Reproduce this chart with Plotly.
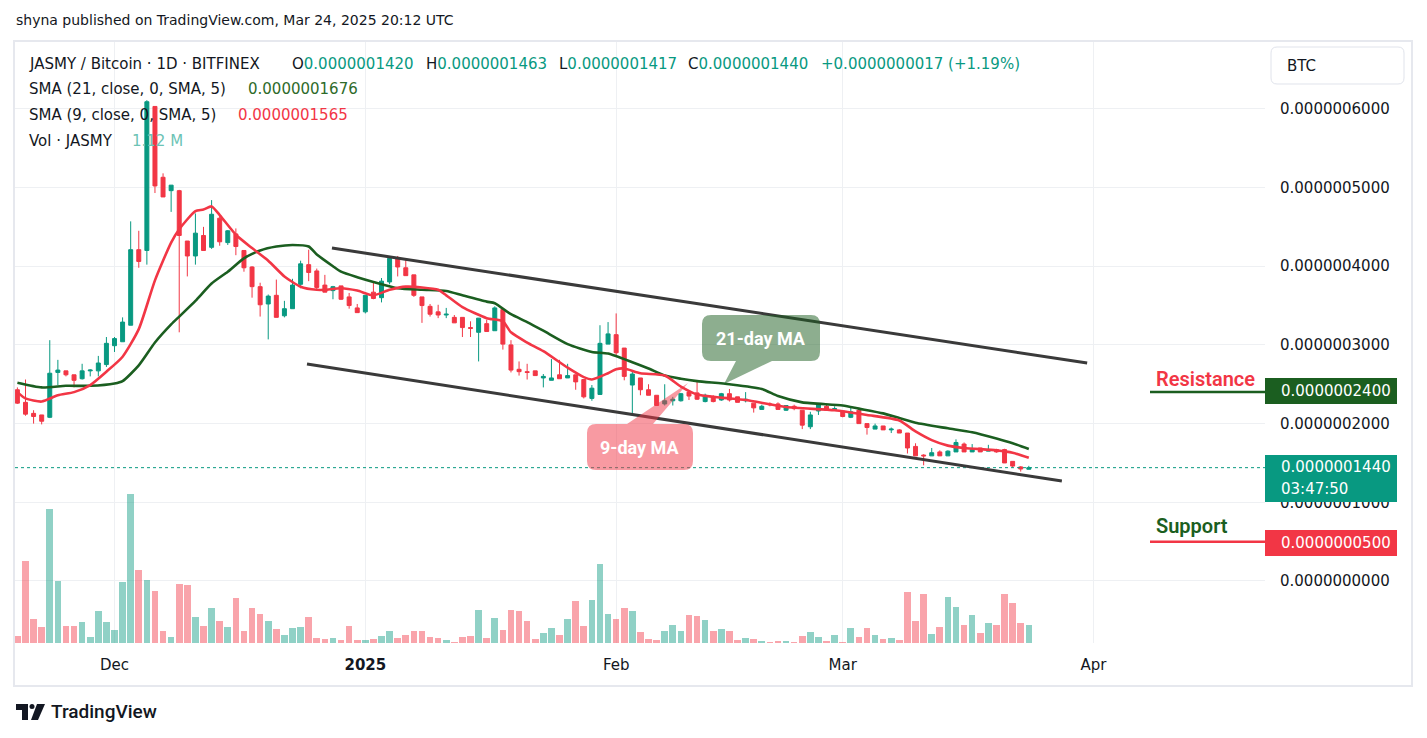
import plotly.graph_objects as go
import pandas as pd

# ---------------- data (prices in units of 1e-7 BTC) ----------------
dates = pd.date_range("2024-11-19", periods=126, freq="D")

open_ = [2.43, 2.27, 2.13, 2.11, 2.08, 2.65, 2.67, 2.62, 2.57, 2.67,
         2.67, 2.75, 2.99, 3.04, 3.25, 4.21, 4.20, 6.03, 5.13, 4.96,
         4.96, 4.32, 4.13, 4.39, 4.24, 4.61, 4.30, 4.41, 4.20, 3.99,
         3.74, 3.52, 3.63, 3.37, 3.46, 3.77, 4.02, 3.94, 3.76, 3.69,
         3.75, 3.61, 3.47, 3.42, 3.67, 3.60, 3.80, 4.10, 3.98, 3.89,
         3.61, 3.49, 3.42, 3.38, 3.35, 3.35, 3.22, 3.16, 3.27, 3.18,
         3.45, 3.00, 2.69, 2.66, 2.67, 2.58, 2.55, 2.62, 2.58, 2.62,
         2.56, 2.32, 2.37, 3.01, 3.13, 2.96, 2.49, 2.58, 2.43, 2.36,
         2.25, 2.29, 2.29, 2.40, 2.39, 2.28, 2.34, 2.30, 2.38, 2.34,
         2.29, 2.26, 2.18, 2.25, 2.25, 2.17, 2.22, 2.17, 1.96, 2.16,
         2.22, 2.18, 2.16, 2.08, 2.17, 2.00, 1.93, 1.97, 1.92, 1.92,
         1.88, 1.71, 1.60, 1.59, 1.64, 1.59, 1.64, 1.74, 1.64, 1.69,
         1.65, 1.67, 1.67, 1.52, 1.45, 1.420]
high = [2.46, 2.56, 2.17, 2.11, 3.06, 2.81, 2.67, 2.62, 2.76, 2.69,
        2.86, 3.10, 3.10, 3.35, 4.57, 4.45, 6.11, 6.03, 5.18, 5.03,
        4.97, 4.32, 4.67, 4.50, 4.84, 4.65, 4.46, 4.48, 4.20, 4.00,
        3.79, 3.64, 3.83, 3.56, 3.84, 4.07, 4.21, 3.97, 3.89, 3.75,
        3.75, 3.66, 3.52, 3.63, 3.80, 3.85, 4.13, 4.13, 4.08, 3.89,
        3.61, 3.52, 3.51, 3.47, 3.38, 3.35, 3.30, 3.34, 3.32, 3.49,
        3.47, 3.06, 2.79, 2.76, 2.67, 2.63, 2.82, 2.81, 2.76, 2.62,
        2.56, 2.49, 3.25, 3.29, 3.40, 2.96, 2.66, 2.58, 2.50, 2.36,
        2.50, 2.34, 2.39, 2.41, 2.53, 2.38, 2.36, 2.39, 2.44, 2.34,
        2.40, 2.26, 2.24, 2.27, 2.27, 2.23, 2.24, 2.17, 2.15, 2.26,
        2.24, 2.22, 2.16, 2.21, 2.19, 2.00, 2.00, 1.97, 1.95, 1.93,
        1.88, 1.75, 1.61, 1.69, 1.66, 1.66, 1.80, 1.76, 1.74, 1.69,
        1.73, 1.68, 1.68, 1.52, 1.46, 1.463]
low = [2.25, 2.10, 2.00, 1.99, 2.07, 2.49, 2.60, 2.46, 2.56, 2.60,
       2.60, 2.72, 2.91, 3.04, 3.25, 3.98, 4.02, 4.93, 4.88, 4.69,
       3.16, 3.87, 4.02, 4.20, 4.22, 4.26, 4.27, 4.14, 3.93, 3.60,
       3.36, 3.07, 3.35, 3.35, 3.46, 3.72, 3.81, 3.71, 3.67, 3.58,
       3.57, 3.46, 3.41, 3.40, 3.58, 3.54, 3.77, 3.87, 3.88, 3.61,
       3.28, 3.36, 3.34, 3.34, 3.28, 3.10, 3.10, 2.79, 3.17, 3.18,
       2.94, 2.65, 2.61, 2.56, 2.61, 2.46, 2.55, 2.57, 2.58, 2.43,
       2.32, 2.29, 2.37, 3.01, 2.87, 2.55, 2.11, 2.36, 2.36, 2.23,
       2.23, 2.23, 2.28, 2.30, 2.30, 2.27, 2.27, 2.29, 2.28, 2.27,
       2.27, 2.14, 2.18, 2.22, 2.18, 2.16, 2.17, 1.93, 1.93, 2.11,
       2.16, 2.16, 2.08, 2.07, 2.00, 1.86, 1.93, 1.92, 1.88, 1.88,
       1.62, 1.59, 1.47, 1.59, 1.59, 1.59, 1.64, 1.64, 1.64, 1.64,
       1.65, 1.63, 1.50, 1.44, 1.39, 1.417]
close = [2.26, 2.12, 2.09, 2.03, 2.64, 2.68, 2.62, 2.55, 2.67, 2.68,
         2.77, 3.02, 3.08, 3.29, 4.21, 4.06, 6.09, 5.02, 4.88, 5.03,
         4.39, 4.13, 4.42, 4.20, 4.66, 4.31, 4.45, 4.25, 3.98, 3.74,
         3.51, 3.62, 3.35, 3.46, 3.76, 4.03, 3.92, 3.73, 3.67, 3.74,
         3.58, 3.50, 3.41, 3.63, 3.59, 3.81, 4.10, 3.99, 3.88, 3.63,
         3.50, 3.39, 3.38, 3.39, 3.28, 3.22, 3.21, 3.34, 3.17, 3.47,
         3.01, 2.68, 2.66, 2.65, 2.61, 2.60, 2.58, 2.57, 2.61, 2.53,
         2.34, 2.45, 3.02, 3.14, 2.90, 2.60, 2.63, 2.43, 2.36, 2.23,
         2.29, 2.31, 2.38, 2.35, 2.31, 2.36, 2.28, 2.38, 2.30, 2.27,
         2.31, 2.20, 2.22, 2.24, 2.18, 2.23, 2.19, 1.98, 2.11, 2.24,
         2.17, 2.19, 2.09, 2.15, 2.00, 1.95, 1.97, 1.92, 1.93, 1.88,
         1.69, 1.59, 1.59, 1.63, 1.59, 1.65, 1.76, 1.64, 1.67, 1.64,
         1.67, 1.64, 1.50, 1.46, 1.423, 1.440]
# volume, millions of JASMY
volume = [0.44, 5.10, 1.49, 1.00, 8.34, 3.86, 1.06, 1.06, 1.31, 0.37,
          1.99, 1.31, 0.81, 3.80, 9.27, 4.54, 3.92, 3.24, 0.75, 0.37,
          3.67, 3.61, 1.62, 1.06, 2.18, 1.37, 1.00, 2.80, 0.75, 2.18,
          1.80, 1.37, 0.87, 0.50, 0.93, 1.00, 1.62, 0.31, 0.25, 0.31,
          0.19, 1.06, 0.19, 0.19, 0.25, 0.44, 0.75, 0.31, 0.50, 0.75,
          0.75, 0.37, 0.31, 0.19, 0.06, 0.37, 0.44, 2.05, 0.31, 1.56,
          0.81, 2.05, 1.99, 1.37, 0.25, 0.62, 0.93, 0.50, 1.49, 2.61,
          1.06, 2.68, 4.92, 1.80, 1.49, 2.18, 1.99, 0.68, 0.25, 0.19,
          0.75, 1.12, 0.75, 1.74, 1.68, 1.43, 0.75, 0.87, 0.75, 0.19,
          0.31, 0.25, 0.12, 0.06, 0.12, 0.12, 0.06, 0.44, 0.68, 0.37,
          0.12, 0.50, 0.06, 0.93, 0.37, 0.93, 0.50, 0.25, 0.31, 0.19,
          3.17, 1.37, 3.05, 0.56, 1.00, 2.86, 2.24, 1.12, 1.74, 0.62,
          1.24, 1.12, 3.05, 2.49, 1.24, 1.12]

# moving averages: (bar number, value)
sma21_bar = [1, 4, 7, 10, 13, 14, 16, 18, 20, 21, 23, 25, 27, 29, 31, 33, 35, 37, 38,
             40, 41, 43, 45, 48, 51, 54, 56, 59, 60, 62, 64, 66, 69, 72, 74, 77, 79,
             81, 83, 85, 89, 93, 95, 98, 103, 105, 108, 110, 112, 116, 119, 122, 124, 126]
sma21_val = [2.52, 2.46, 2.48, 2.48, 2.51, 2.54, 2.74, 3.03, 3.26, 3.36, 3.56, 3.78, 3.93,
             4.10, 4.20, 4.25, 4.27, 4.25, 4.15, 4.00, 3.93, 3.86, 3.80, 3.72, 3.70, 3.685,
             3.63, 3.55, 3.53, 3.39, 3.29, 3.18, 3.01, 2.91, 2.89, 2.78, 2.70, 2.61, 2.57,
             2.54, 2.50, 2.44, 2.35, 2.27, 2.23, 2.19, 2.13, 2.07, 2.01, 1.94, 1.89, 1.81,
             1.75, 1.676]
sma9_bar = [1, 2, 4, 6, 8, 10, 12, 14, 16, 18, 20, 21, 23, 24, 25, 26, 28, 30, 32, 34,
            36, 38, 39, 41, 43, 45, 47, 49, 51, 53, 54, 56, 59, 61, 62, 64, 66, 69, 71,
            72, 74, 75, 76, 78, 81, 83, 85, 88, 91, 96, 102, 106, 110, 112, 114, 116,
            118, 122, 124, 126]
sma9_val = [2.40, 2.32, 2.28, 2.36, 2.40, 2.49, 2.66, 2.85, 3.20, 3.82, 4.30, 4.47, 4.70,
            4.72, 4.76, 4.65, 4.40, 4.23, 4.07, 3.87, 3.74, 3.70, 3.70, 3.72, 3.69, 3.63,
            3.70, 3.74, 3.73, 3.70, 3.63, 3.48, 3.34, 3.30, 3.16, 3.03, 2.92, 2.71, 2.59,
            2.56, 2.64, 2.69, 2.70, 2.64, 2.61, 2.47, 2.37, 2.33, 2.30, 2.21, 2.17, 2.11,
            2.04, 1.90, 1.79, 1.72, 1.69, 1.66, 1.63, 1.565]

# drawn channel lines (date, price in 1e-7)
channel_upper = [("2024-12-27 21:00", 4.23), ("2025-03-31 05:00", 2.77)]
channel_lower = [("2024-12-24 19:00", 2.757), ("2025-03-28 02:00", 1.27)]
resistance_level = 2.40
support_level = 0.50
last_price = 1.440

price_ticks = [0, 1, 2, 3, 4, 5, 6]
month_ticks = ["2024-12-01", "2025-01-01", "2025-02-01", "2025-03-01", "2025-04-01"]
month_labels = ["Dec", "<b>2025</b>", "Feb", "Mar", "Apr"]

# ---------------- styling ----------------
S = 1e-7
UP = "#089981"
DN = "#F23645"
GREEN = "#1B5E20"
TXT = "#131722"
GRID = "#eef0f3"
FONT = "DejaVu Sans"
BOLDF = "Roboto"

W, H = 1427, 738
PL, PR, PT, PB = 15, 1265, 42, 643


def px(x):
    return (x - PL) / (PR - PL)


def py(y):
    return (PB - y) / (PB - PT)


def P(x, y):
    return f"{px(x):.5f},{py(y):.5f}"


sc = lambda v: [a * S for a in v]

vol_colors = ["rgba(8,153,129,0.45)" if c >= o else "rgba(242,54,69,0.45)"
              for o, c in zip(open_, close)]

fig = go.Figure()
fig.add_trace(go.Bar(x=dates, y=volume, yaxis="y2", width=0.82 * 86400000,
                     marker=dict(color=vol_colors, line_width=0),
                     hoverinfo="skip", showlegend=False))
fig.add_trace(go.Candlestick(
    x=dates, open=sc(open_), high=sc(high), low=sc(low), close=sc(close),
    increasing=dict(line=dict(color=UP, width=1), fillcolor=UP),
    decreasing=dict(line=dict(color=DN, width=1), fillcolor=DN),
    whiskerwidth=0, showlegend=False, hoverinfo="skip"))
fig.add_trace(go.Scatter(x=[dates[i - 1] for i in sma21_bar], y=sc(sma21_val),
                         mode="lines", line=dict(color=GREEN, width=2.6, shape="spline", smoothing=0.6),
                         hoverinfo="skip", showlegend=False))
fig.add_trace(go.Scatter(x=[dates[i - 1] for i in sma9_bar], y=sc(sma9_val),
                         mode="lines", line=dict(color="#F23645", width=2.6, shape="spline", smoothing=0.6),
                         hoverinfo="skip", showlegend=False))

shapes = []
# chart frame
shapes.append(dict(type="rect", xref="paper", yref="paper", x0=px(14), x1=px(1412), y0=py(41), y1=py(686),
                   line=dict(color="#e6e8ee", width=2), fillcolor="rgba(0,0,0,0)", layer="below"))
# current price dotted line
shapes.append(dict(type="line", xref="paper", yref="y", x0=0, x1=1, y0=last_price * S, y1=last_price * S,
                   line=dict(color=UP, width=1, dash="dot"), layer="above"))
# channel
for seg in (channel_upper, channel_lower):
    shapes.append(dict(type="line", xref="x", yref="y", x0=seg[0][0], y0=seg[0][1] * S,
                       x1=seg[1][0], y1=seg[1][1] * S, line=dict(color="#3a3a3a", width=3), layer="above"))
# resistance / support
shapes.append(dict(type="line", xref="paper", yref="y", x0=px(1150), x1=1, y0=resistance_level * S,
                   y1=resistance_level * S, line=dict(color=GREEN, width=2.5), layer="above"))
shapes.append(dict(type="line", xref="paper", yref="y", x0=px(1150), x1=1, y0=support_level * S,
                   y1=support_level * S, line=dict(color=DN, width=2.5), layer="above"))


def callout(x0, y0, x1, y1, r, tail, side):
    # rounded rect with a tail; tail = (base_a, base_b, tipx, tipy)
    ba, bb, tx, ty = tail
    d = f"M{P(x0 + r, y0)}"
    if side == "top":
        d += f" L{P(ba, y0)} L{P(tx, ty)} L{P(bb, y0)}"
    d += f" L{P(x1 - r, y0)} Q{P(x1, y0)} {P(x1, y0 + r)} L{P(x1, y1 - r)} Q{P(x1, y1)} {P(x1 - r, y1)}"
    if side == "bottom":
        d += f" L{P(bb, y1)} L{P(tx, ty)} L{P(ba, y1)}"
    d += f" L{P(x0 + r, y1)} Q{P(x0, y1)} {P(x0, y1 - r)} L{P(x0, y0 + r)} Q{P(x0, y0)} {P(x0 + r, y0)} Z"
    return d


shapes.append(dict(type="path", xref="paper", yref="paper",
                   path=callout(702, 315, 820, 361, 9, (736, 772, 724, 384), "bottom"),
                   fillcolor="rgba(27,94,32,0.5)", line=dict(width=0), layer="above"))
shapes.append(dict(type="path", xref="paper", yref="paper",
                   path=callout(587, 424, 693, 470, 9, (627, 653, 688, 383), "top"),
                   fillcolor="rgba(242,54,69,0.5)", line=dict(width=0), layer="above"))

# price scale boxes
shapes.append(dict(type="rect", xref="paper", yref="paper", x0=1, x1=px(1397), y0=py(378), y1=py(404),
                   fillcolor=GREEN, line=dict(width=0), layer="above"))
shapes.append(dict(type="rect", xref="paper", yref="paper", x0=1, x1=px(1397), y0=py(455), y1=py(502),
                   fillcolor=UP, line=dict(width=0), layer="above"))
shapes.append(dict(type="rect", xref="paper", yref="paper", x0=1, x1=px(1397), y0=py(530), y1=py(556),
                   fillcolor=DN, line=dict(width=0), layer="above"))
# BTC button
bx0, by0, bx1, by1, br = 1271, 47, 1404, 84, 6
shapes.append(dict(type="path", xref="paper", yref="paper",
                   path=(f"M{P(bx0 + br, by0)} L{P(bx1 - br, by0)} Q{P(bx1, by0)} {P(bx1, by0 + br)} "
                         f"L{P(bx1, by1 - br)} Q{P(bx1, by1)} {P(bx1 - br, by1)} L{P(bx0 + br, by1)} "
                         f"Q{P(bx0, by1)} {P(bx0, by1 - br)} L{P(bx0, by0 + br)} Q{P(bx0, by0)} {P(bx0 + br, by0)} Z"),
                   fillcolor="white", line=dict(color="#e0e3eb", width=1), layer="above"))
# TradingView logo
shapes.append(dict(type="path", xref="paper", yref="paper",
                   path=f"M{P(16, 704)} L{P(28, 704)} L{P(28, 720)} L{P(22, 720)} L{P(22, 710)} L{P(16, 710)} Z",
                   fillcolor=TXT, line=dict(width=0), layer="above"))
shapes.append(dict(type="circle", xref="paper", yref="paper", x0=px(29.5), x1=px(34.5), y0=py(704), y1=py(709),
                   fillcolor=TXT, line=dict(width=0), layer="above"))
shapes.append(dict(type="path", xref="paper", yref="paper",
                   path=f"M{P(37, 704)} L{P(45, 704)} L{P(38, 720)} L{P(31, 720)} Z",
                   fillcolor=TXT, line=dict(width=0), layer="above"))

ann = []


def text(x, y, s, size=15, color=TXT, xanchor="left", family=FONT, weight="normal"):
    ann.append(dict(xref="paper", yref="paper", x=px(x), y=py(y), text=s, showarrow=False,
                    xanchor=xanchor, yanchor="middle",
                    font=dict(family=family, size=size, color=color, weight=weight)))


def span(s, c):
    return f"<span style='color:{c}'>{s}</span>"


text(14, 20, "shyna published on TradingView.com, Mar 24, 2025 20:12 UTC", 14)
text(27, 64, "JASMY / Bitcoin · 1D · BITFINEX")
text(290, 64, "O" + span("0.0000001420", UP))
text(424, 64, "H" + span("0.0000001463", UP))
text(557, 64, "L" + span("0.0000001417", UP))
text(686, 64, "C" + span("0.0000001440", UP))
text(819, 64, span("+0.0000000017 (+1.19%)", UP))
text(27, 89, "SMA (21, close, 0, SMA, 5)")
text(246, 89, span("0.0000001676", "#2E6B2A"))
text(27, 115, "SMA (9, close, 0, SMA, 5)")
text(236, 115, span("0.0000001565", DN))
text(27, 141, "Vol · JASMY")
text(130, 141, span("1.12 M", "#6cc3b5"))

text(761, 338, "21-day MA", 18, "white", "center", BOLDF, "bold")
text(640, 447, "9-day MA", 18, "white", "center", BOLDF, "bold")
text(1154, 379, "Resistance", 20, DN, family=BOLDF, weight=600)
text(1154, 526, "Support", 20, GREEN, family=BOLDF, weight=600)
text(1279, 391, "0.0000002400", 15, "white")
text(1279, 467, "0.0000001440", 15, "white")
text(1279, 489, "03:47:50", 15, "white")
text(1279, 543, "0.0000000500", 15, "white")
text(1285, 66, "BTC", 15)
text(49, 712, "TradingView", 19, family=BOLDF, weight=500)

fig.update_layout(
    width=W, height=H,
    margin=dict(l=PL, r=W - PR, t=PT, b=H - PB),
    paper_bgcolor="white", plot_bgcolor="white",
    showlegend=False, hovermode=False, bargap=0,
    shapes=shapes, annotations=ann,
    font=dict(family=FONT, color=TXT),
    xaxis=dict(type="date", range=["2024-11-18 16:52", "2025-04-22 04:34"],
               rangeslider=dict(visible=False), tickvals=month_ticks, ticktext=month_labels,
               showgrid=True, gridcolor=GRID, gridwidth=1, zeroline=False, showline=False,
               ticks="", tickfont=dict(size=15, color=TXT, family=FONT), ticklabelstandoff=11),
    yaxis=dict(side="right", range=[-0.788 * S, 6.849 * S],
               tickvals=[t * S for t in price_ticks],
               ticktext=[f"{t * S:.10f}" for t in price_ticks],
               showgrid=True, gridcolor=GRID, gridwidth=1, zeroline=False, showline=False,
               ticks="", tickfont=dict(size=15, color=TXT, family=FONT), ticklabelstandoff=14),
    yaxis2=dict(overlaying="y", range=[0, 37.4], visible=False, showgrid=False),
)

fig.write_html("out.html", config={"displayModeBar": False},
               post_script="document.body.style.margin='0';document.body.style.overflow='hidden';")
